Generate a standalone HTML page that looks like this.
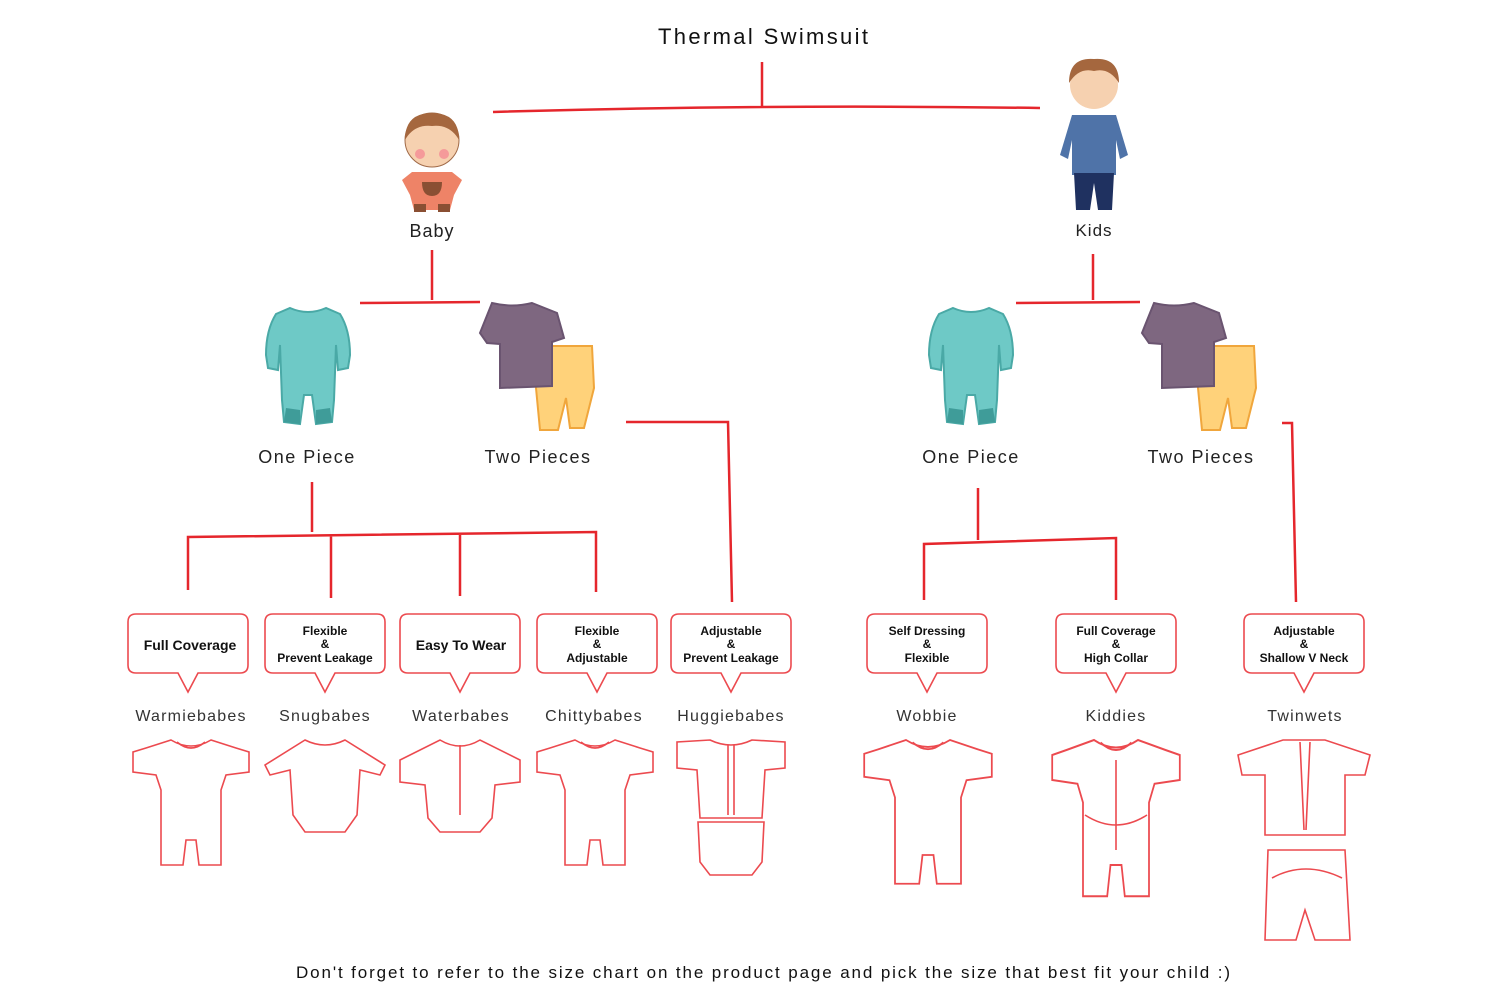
<!DOCTYPE html>
<html><head><meta charset="utf-8"><style>
html,body{margin:0;padding:0;background:#fff;}
svg{display:block;}
text{font-family:"Liberation Sans",sans-serif;}
</style></head><body>
<svg width="1500" height="1000" viewBox="0 0 1500 1000" xmlns="http://www.w3.org/2000/svg">
<defs>
<g id="onesie">
<path d="M-18,-52 Q0,-44 18,-52 L32,-46 Q42,-30 42,-5 L40,8 L30,10 L28,-15 L26,40 L24,62 L8,64 L4,35 L-4,35 L-8,64 L-24,62 L-26,40 L-28,-15 L-30,10 L-40,8 L-42,-5 Q-42,-30 -32,-46 Z" fill="#6ec9c6" stroke="#4aa9a6" stroke-width="2"/>
<path d="M-22,48 L-8,50 L-8,64 L-24,62 Z M22,48 L8,50 L8,64 L24,62 Z" fill="#3f9c99"/>
</g>
<g id="twop">
<path d="M10,-12 L70,-12 L72,30 L62,70 L48,70 L44,40 L36,72 L18,72 Z" fill="#ffd27a" stroke="#f0a63c" stroke-width="2"/>
<path d="M-30,-55 Q-10,-50 10,-55 L35,-45 L42,-20 L30,-16 L30,28 L-22,30 L-22,-14 L-35,-15 L-42,-25 Z" fill="#7e6780" stroke="#6a5470" stroke-width="2"/>
</g>
<g id="suit" fill="none" stroke="#ec4a4f" stroke-width="1.6">
<path d="M-20,0 Q0,12 20,0 L45,8 L58,12 L58,32 L35,35 L30,50 L30,125 L8,125 L5,100 L-5,100 L-8,125 L-30,125 L-30,50 L-35,35 L-58,32 L-58,12 L-45,8 Z"/>
<path d="M-14,2 Q0,14 14,2"/>
</g>
</defs>

<g stroke="#e5262c" stroke-width="2.5" fill="none">
<path d="M762,62 L762,108 M493,112 Q760,104 1040,108"/>
<path d="M432,250 L432,300 M360,303 L480,302"/>
<path d="M1093,254 L1093,300 M1016,303 L1140,302"/>
<path d="M312,482 L312,532 M188,590 L188,537 L596,532 L596,592 M331,535 L331,598 M460,535 L460,596"/>
<path d="M626,422 L728,422 L732,602"/>
<path d="M978,488 L978,540 M924,600 L924,544 L1116,538 L1116,600"/>
<path d="M1282,423 L1292,423 L1296,602"/>
</g>

<text x="658" y="44" font-size="22" fill="#111" textLength="210" lengthAdjust="spacing">Thermal Swimsuit</text>

<!-- baby -->
<g transform="translate(432,160)">
<circle cx="0" cy="-20" r="27" fill="#f6d1b0" stroke="#a06a48" stroke-width="1"/>
<path d="M-27,-20 Q-27,-47 0,-47 Q27,-47 27,-20 Q18,-36 0,-34 Q-18,-36 -27,-20Z" fill="#a5673e"/>
<circle cx="-12" cy="-6" r="5" fill="#f59a9a"/><circle cx="12" cy="-6" r="5" fill="#f59a9a"/>
<path d="M-20,12 L20,12 L30,20 L22,35 L18,50 L-18,50 L-22,35 L-30,20Z" fill="#ee8367"/>
<path d="M-10,22 L10,22 Q10,36 0,36 Q-10,36 -10,22Z" fill="#8a4f33"/>
<rect x="-18" y="44" width="12" height="8" fill="#8a4f33"/><rect x="6" y="44" width="12" height="8" fill="#8a4f33"/>
</g>
<text x="432" y="237" font-size="18" text-anchor="middle" fill="#222" letter-spacing="1">Baby</text>
<!-- kid -->
<g transform="translate(1094,135)">
<circle cx="0" cy="-50" r="24" fill="#f6d1b0"/>
<path d="M-25,-52 Q-25,-78 0,-76 Q25,-78 25,-52 Q15,-68 0,-64 Q-15,-68 -25,-52Z" fill="#a5673e"/>
<path d="M-22,-20 L22,-20 L34,20 L26,24 L22,5 L22,40 L-22,40 L-22,5 L-26,24 L-34,20Z" fill="#4f73a8"/>
<path d="M-20,38 L20,38 L18,75 L4,75 L0,48 L-4,75 L-18,75Z" fill="#1f3160"/>
</g>
<text x="1094" y="236" font-size="17" text-anchor="middle" fill="#222" letter-spacing="1">Kids</text>

<use href="#onesie" x="308" y="360"/>
<use href="#twop" x="522" y="358"/>
<use href="#onesie" x="971" y="360"/>
<use href="#twop" x="1184" y="358"/>

<g font-size="18" fill="#222" text-anchor="middle" letter-spacing="1.5">
<text x="307" y="463">One Piece</text>
<text x="538" y="463">Two Pieces</text>
<text x="971" y="463">One Piece</text>
<text x="1201" y="463">Two Pieces</text>
</g>

<g fill="#fff" stroke="#ec4a4f" stroke-width="1.6">
<path id="cb" d="M-52,0 L52,0 Q60,0 60,8 L60,51 Q60,59 52,59 L10,59 L0,78 L-10,59 L-52,59 Q-60,59 -60,51 L-60,8 Q-60,0 -52,0Z" transform="translate(188,614)"/>
<use href="#cb" x="137" y="0"/>
<use href="#cb" x="272" y="0"/>
<use href="#cb" x="409" y="0"/>
<use href="#cb" x="543" y="0"/>
<use href="#cb" x="739" y="0"/>
<use href="#cb" x="928" y="0"/>
<use href="#cb" x="1116" y="0"/>
</g>

<g font-size="12" font-weight="bold" fill="#111" text-anchor="middle">
<text x="190" y="650" font-size="14">Full Coverage</text>
<text x="325" y="635">Flexible</text><text x="325" y="648">&amp;</text><text x="325" y="662">Prevent Leakage</text>
<text x="461" y="650" font-size="14">Easy To Wear</text>
<text x="597" y="635">Flexible</text><text x="597" y="648">&amp;</text><text x="597" y="662">Adjustable</text>
<text x="731" y="635">Adjustable</text><text x="731" y="648">&amp;</text><text x="731" y="662">Prevent Leakage</text>
<text x="927" y="635">Self Dressing</text><text x="927" y="648">&amp;</text><text x="927" y="662">Flexible</text>
<text x="1116" y="635">Full Coverage</text><text x="1116" y="648">&amp;</text><text x="1116" y="662">High Collar</text>
<text x="1304" y="635">Adjustable</text><text x="1304" y="648">&amp;</text><text x="1304" y="662">Shallow V Neck</text>
</g>

<g font-size="16" fill="#333" text-anchor="middle" letter-spacing="1.2">
<text x="191" y="721">Warmiebabes</text>
<text x="325" y="721">Snugbabes</text>
<text x="461" y="721">Waterbabes</text>
<text x="594" y="721">Chittybabes</text>
<text x="731" y="721">Huggiebabes</text>
<text x="927" y="721">Wobbie</text>
<text x="1116" y="721">Kiddies</text>
<text x="1305" y="721">Twinwets</text>
</g>

<use href="#suit" transform="translate(191,740)"/>
<g fill="none" stroke="#ec4a4f" stroke-width="1.6">
<path d="M305,740 Q325,750 345,740 L385,765 L380,775 L360,770 L357,815 L345,832 L305,832 L293,815 L290,770 L270,775 L265,765Z"/>
<path d="M440,740 Q460,752 480,740 L520,760 L520,782 L495,785 L492,818 L480,832 L440,832 L428,818 L425,785 L400,782 L400,760Z"/>
<path d="M460,745 L460,815"/>
</g>
<use href="#suit" transform="translate(595,740)"/>
<g fill="none" stroke="#ec4a4f" stroke-width="1.6">
<path d="M710,740 Q731,750 752,740 L785,742 L785,768 L765,770 L762,818 L700,818 L697,770 L677,768 L677,742Z"/>
<path d="M728,745 L728,815 M734,745 L734,815"/>
<path d="M698,822 L764,822 L762,862 L752,875 L710,875 L700,862Z"/>
</g>
<use href="#suit" transform="translate(928,740) scale(1.1,1.15)"/>
<use href="#suit" transform="translate(1116,740) scale(1.1,1.25)"/>
<g fill="none" stroke="#ec4a4f" stroke-width="1.6">
<path d="M1085,815 Q1116,835 1147,815 M1116,760 L1116,850"/>
<path d="M1283,740 L1325,740 L1370,755 L1365,775 L1345,775 L1345,835 L1265,835 L1265,775 L1242,775 L1238,755Z"/>
<path d="M1300,742 L1304,830 M1310,742 L1306,830"/>
<path d="M1268,850 L1345,850 L1350,940 L1315,940 L1305,910 L1296,940 L1265,940Z"/>
<path d="M1272,878 Q1305,860 1342,878"/>
</g>

<text x="296" y="978" font-size="17" fill="#111" textLength="934" lengthAdjust="spacing">Don't forget to refer to the size chart on the product page and pick the size that best fit your child :)</text>
</svg>
</body></html>
